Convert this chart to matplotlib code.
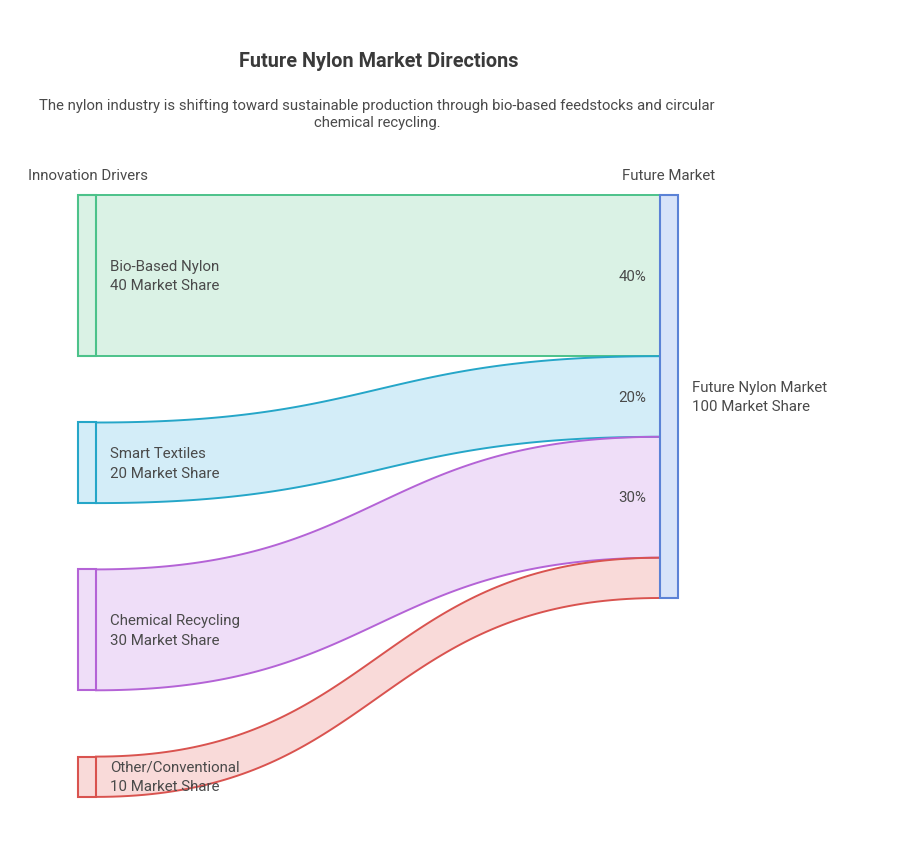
import numpy as np
import matplotlib
matplotlib.use("Agg")
import matplotlib.pyplot as plt
from matplotlib.patches import Rectangle

plt.rcParams['font.family'] = ['Roboto', 'DejaVu Sans']

# ---- data ----
sources = ["Bio-Based Nylon", "Smart Textiles", "Chemical Recycling", "Other/Conventional"]
values = [40, 20, 30, 10]
target = "Future Nylon Market"
target_value = 100
pct_labels = ["40%", "20%", "30%", ""]
unit = "Market Share"
title = "Future Nylon Market Directions"
subtitle = ("The nylon industry is shifting toward sustainable production through bio-based feedstocks and circular\n"
            "chemical recycling.")
left_header = "Innovation Drivers"
right_header = "Future Market"

strokes = ["#4cc28a", "#25a6c8", "#b463d6", "#d9534f"]
fills = ["#daf2e5", "#d3edf8", "#efdef8", "#f9dad9"]
tgt_stroke = "#5b82d6"
tgt_fill = "#d7e3f9"
text_col = "#4a4a4a"

# ---- layout (pixel space) ----
W, H = 906, 847
fig = plt.figure(figsize=(W / 100, H / 100), dpi=100)
ax = fig.add_axes([0, 0, 1, 1])
ax.set_xlim(0, W)
ax.set_ylim(H, 0)
ax.axis('off')

scale = 4.03
gap = 66.3
top = 195
lx0, lx1 = 78, 96
rx0, rx1 = 660, 678

ly = []
y = top
for v in values:
    ly.append((y, y + v * scale))
    y += v * scale + gap
ry = []
y = top
for v in values:
    ry.append((y, y + v * scale))
    y += v * scale

def bez(xa, ya, xb, yb, n=100):
    t = np.linspace(0, 1, n)
    xm = (xa + xb) / 2
    P0 = np.array([xa, ya]); P1 = np.array([xm, ya]); P2 = np.array([xm, yb]); P3 = np.array([xb, yb])
    pts = ((1 - t) ** 3)[:, None] * P0 + (3 * (1 - t) ** 2 * t)[:, None] * P1 + \
          (3 * (1 - t) * t ** 2)[:, None] * P2 + (t ** 3)[:, None] * P3
    return pts

for i, v in enumerate(values):
    (l0, l1), (r0, r1) = ly[i], ry[i]
    topc = bez(lx1, l0, rx0, r0)
    botc = bez(lx1, l1, rx0, r1)
    poly = np.vstack([topc, botc[::-1]])
    ax.fill(poly[:, 0], poly[:, 1], color=fills[i], lw=0, zorder=1)
    ax.plot(topc[:, 0], topc[:, 1], color=strokes[i], lw=1.4, zorder=3)
    ax.plot(botc[:, 0], botc[:, 1], color=strokes[i], lw=1.4, zorder=3)
    ax.add_patch(Rectangle((lx0, l0), lx1 - lx0, l1 - l0, facecolor=fills[i],
                           edgecolor=strokes[i], lw=1.5, zorder=4))
    ax.text(110, (l0 + l1) / 2 + 1, f"{sources[i]}\n{v} {unit}", ha='left', va='center',
            fontsize=10.8, color=text_col, linespacing=1.5, zorder=5)
    if pct_labels[i]:
        ax.text(646, (r0 + r1) / 2 + 1, pct_labels[i], ha='right', va='center',
                fontsize=10.8, color=text_col, zorder=5)

ax.add_patch(Rectangle((rx0, top), rx1 - rx0, target_value * scale, facecolor=tgt_fill,
                       edgecolor=tgt_stroke, lw=1.5, zorder=4))
ax.text(692, top + target_value * scale / 2 + 1, f"{target}\n{target_value} {unit}", ha='left',
        va='center', fontsize=10.8, color=text_col, linespacing=1.5)

ax.text(28, 176.5, left_header, ha='left', va='center', fontsize=10.8, color=text_col)
ax.text((rx0 + rx1) / 2, 176.5, right_header, ha='center', va='center', fontsize=10.8, color=text_col)

ax.text(378.5, 61.5, title, ha='center', va='center', fontsize=14.3, fontweight='bold', color="#3a3a3a")
ax.text(377, 114.5, subtitle, ha='center', va='center', fontsize=10.75, color=text_col, linespacing=1.35)

fig.savefig("out.png", dpi=100, facecolor='white')
